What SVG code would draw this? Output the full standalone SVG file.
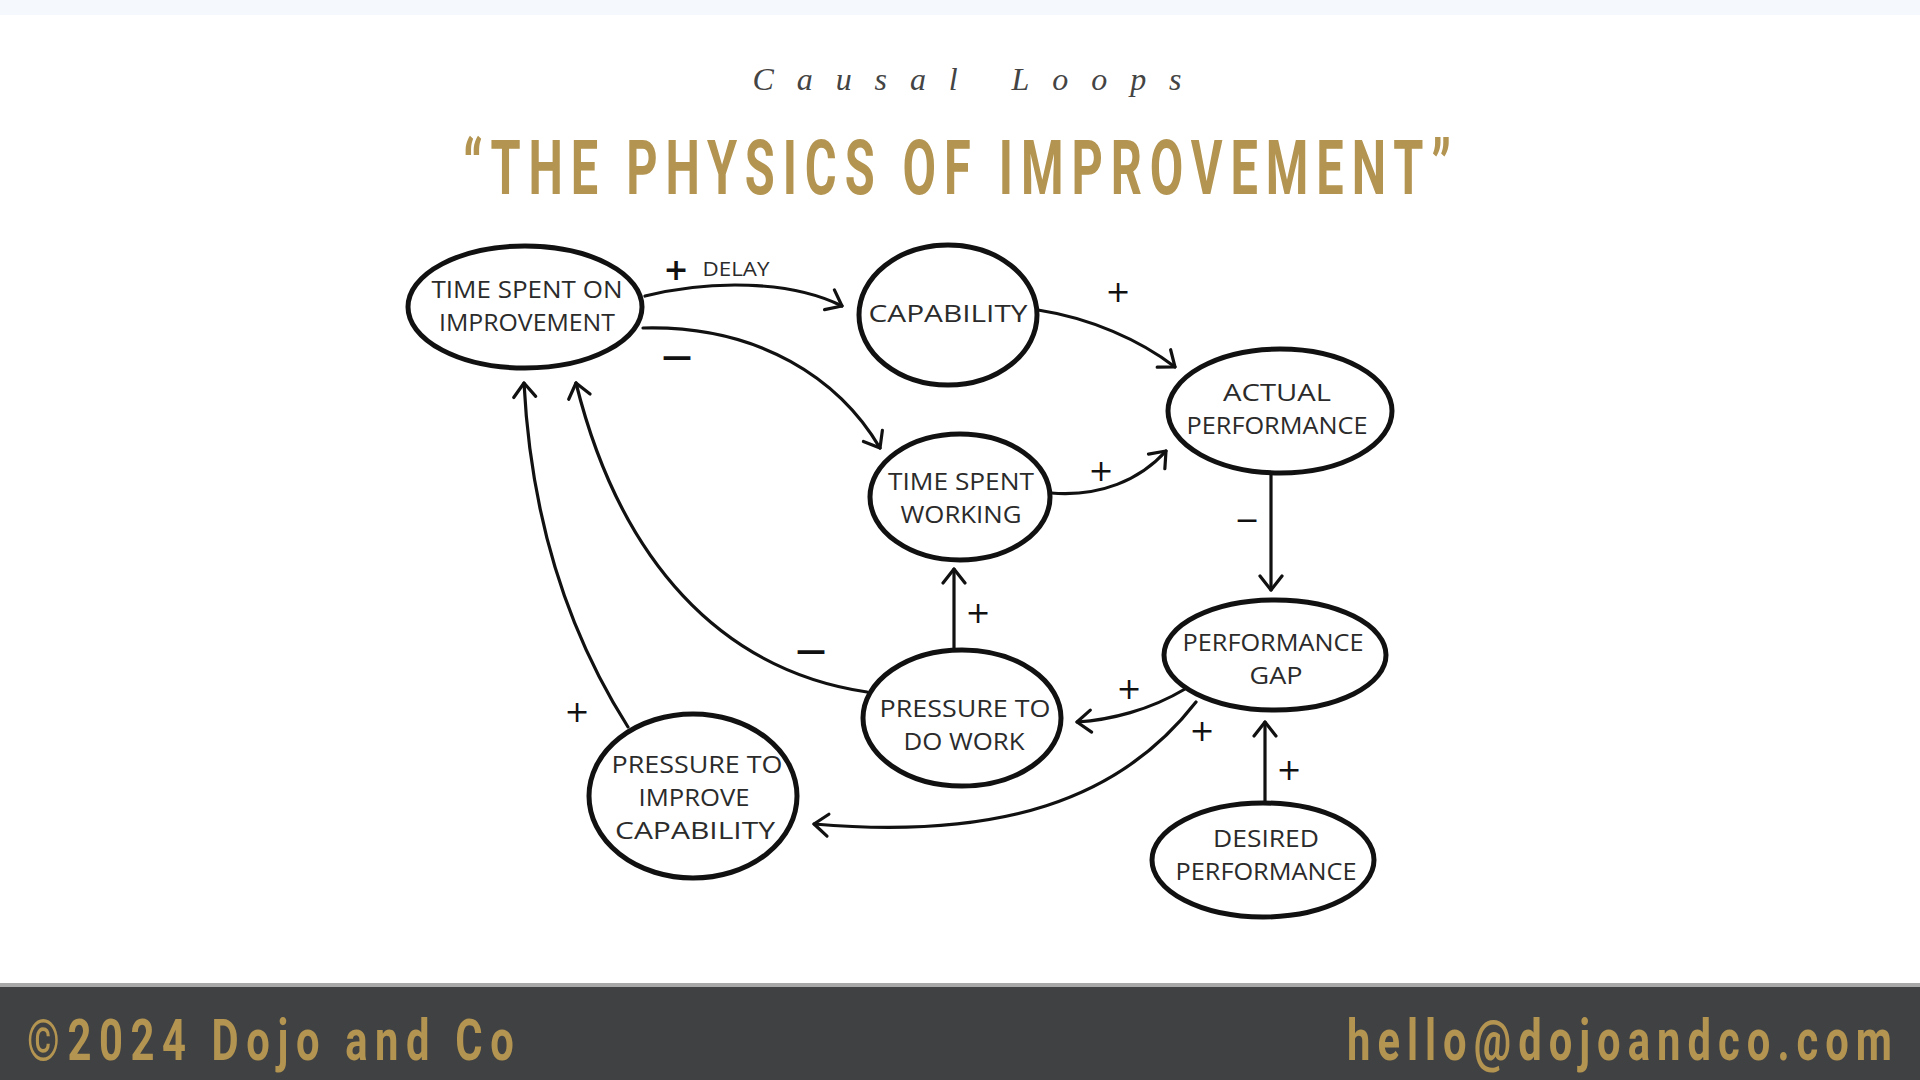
<svg xmlns="http://www.w3.org/2000/svg" width="1920" height="1080" viewBox="0 0 1920 1080">
<style>
.node{fill:#fff;stroke:#111;stroke-width:5}
.lbl{font-family:"Open Sans","DejaVu Sans",sans-serif;font-size:24px;fill:#2b2b2b;text-anchor:middle}
.edge{fill:none;stroke:#111;stroke-width:3.2;stroke-linecap:round;marker-end:url(#arr)}
.sign{font-family:"DejaVu Sans",sans-serif;font-size:30px;fill:#111;text-anchor:middle}
.gold{fill:#b39450}
.cond{font-family:Roboto,"Liberation Sans",sans-serif;font-weight:bold}
</style>
<defs>
<marker id="arr" viewBox="-18 -14 20 28" refX="0" refY="0" markerWidth="20" markerHeight="28" markerUnits="userSpaceOnUse" orient="auto">
<path d="M-14,-11 L0,0 L-14,11" fill="none" stroke="#111" stroke-width="3.2" stroke-linecap="round" stroke-linejoin="round"/>
</marker>
</defs>
<rect x="0" y="0" width="1920" height="1080" fill="#fff"/>
<rect x="0" y="0" width="1920" height="15" fill="#f5f9fd"/>

<text x="967" y="90" font-family="Liberation Serif,serif" font-style="italic" font-size="32" fill="#444" text-anchor="middle" textLength="429" lengthAdjust="spacing">Causal Loops</text>
<text transform="translate(957,194) scale(0.64,1)" x="0" y="0" class="cond gold" font-size="76" text-anchor="middle" textLength="1544" lengthAdjust="spacing">“THE PHYSICS OF IMPROVEMENT”</text>

<g id="connectors">
<path class="edge" d="M645,296 C710,280 790,280 842,306"/>
<path class="edge" d="M643,328 C760,325 840,380 880,448"/>
<path class="edge" d="M1038,310 C1090,318 1140,340 1175,367"/>
<path class="edge" d="M1051,493 C1100,497 1140,480 1166,451"/>
<path class="edge" d="M1271,475 L1271,590"/>
<path class="edge" d="M1185,689 C1150,710 1110,720 1077,722"/>
<path class="edge" d="M1196,702 C1120,800 1000,840 814,824"/>
<path class="edge" d="M1265,802 L1265,722"/>
<path class="edge" d="M954,649 L954,569"/>
<path class="edge" d="M867,692 C720,670 620,560 576,383"/>
<path class="edge" d="M628,727 C560,620 530,500 524,383"/>
<text class="sign" x="676" y="280" font-size="36" font-weight="bold">+</text>
<text x="736" y="276" font-family="'Open Sans',sans-serif" font-size="20" fill="#2b2b2b" text-anchor="middle" textLength="67" lengthAdjust="spacingAndGlyphs">DELAY</text>
<text class="sign" x="677" y="366" font-weight="bold">—</text>
<text class="sign" x="1118" y="302">+</text>
<text class="sign" x="1101" y="481">+</text>
<text class="sign" x="1247" y="530" font-size="34">−</text>
<text class="sign" x="1129" y="699">+</text>
<text class="sign" x="1202" y="741">+</text>
<text class="sign" x="1289" y="780">+</text>
<text class="sign" x="978" y="623">+</text>
<text class="sign" x="811" y="660" font-weight="bold">—</text>
<text class="sign" x="577" y="722">+</text>
</g>

<g id="n-tsoi">
<ellipse class="node" cx="525" cy="307" rx="117" ry="61"/>
<text class="lbl" x="527" y="298" textLength="191" lengthAdjust="spacingAndGlyphs">TIME SPENT ON</text>
<text class="lbl" x="527" y="331" textLength="176" lengthAdjust="spacingAndGlyphs">IMPROVEMENT</text>
</g>
<g id="n-capability">
<ellipse class="node" cx="948" cy="315" rx="89" ry="70"/>
<text class="lbl" x="948" y="322" textLength="159" lengthAdjust="spacingAndGlyphs">CAPABILITY</text>
</g>
<g id="n-actual">
<ellipse class="node" cx="1280" cy="411" rx="112" ry="62"/>
<text class="lbl" x="1277" y="401" textLength="108" lengthAdjust="spacingAndGlyphs">ACTUAL</text>
<text class="lbl" x="1277" y="434" textLength="181" lengthAdjust="spacingAndGlyphs">PERFORMANCE</text>
</g>
<g id="n-tsw">
<ellipse class="node" cx="960" cy="497" rx="90" ry="63"/>
<text class="lbl" x="961" y="490" textLength="146" lengthAdjust="spacingAndGlyphs">TIME SPENT</text>
<text class="lbl" x="961" y="523" textLength="121" lengthAdjust="spacingAndGlyphs">WORKING</text>
</g>
<g id="n-gap">
<ellipse class="node" cx="1275" cy="655" rx="111" ry="55"/>
<text class="lbl" x="1273" y="651" textLength="181" lengthAdjust="spacingAndGlyphs">PERFORMANCE</text>
<text class="lbl" x="1276" y="684" textLength="53" lengthAdjust="spacingAndGlyphs">GAP</text>
</g>
<g id="n-pdw">
<ellipse class="node" cx="962" cy="718" rx="99" ry="68"/>
<text class="lbl" x="965" y="717" textLength="171" lengthAdjust="spacingAndGlyphs">PRESSURE TO</text>
<text class="lbl" x="964" y="750" textLength="121" lengthAdjust="spacingAndGlyphs">DO WORK</text>
</g>
<g id="n-pic">
<ellipse class="node" cx="693" cy="796" rx="104" ry="82"/>
<text class="lbl" x="697" y="773" textLength="171" lengthAdjust="spacingAndGlyphs">PRESSURE TO</text>
<text class="lbl" x="694" y="806" textLength="111" lengthAdjust="spacingAndGlyphs">IMPROVE</text>
<text class="lbl" x="695" y="839" textLength="160" lengthAdjust="spacingAndGlyphs">CAPABILITY</text>
</g>
<g id="n-desired">
<ellipse class="node" cx="1263" cy="860" rx="111" ry="57"/>
<text class="lbl" x="1266" y="847" textLength="106" lengthAdjust="spacingAndGlyphs">DESIRED</text>
<text class="lbl" x="1266" y="880" textLength="181" lengthAdjust="spacingAndGlyphs">PERFORMANCE</text>
</g>

<rect x="0" y="983" width="1920" height="4" fill="#a8a8a8"/>
<rect x="0" y="987" width="1920" height="93" fill="#404143"/>
<text transform="translate(27,1060) scale(0.72,1)" x="0" y="0" class="cond gold" font-size="58" textLength="676" lengthAdjust="spacing">©2024 Dojo and Co</text>
<text transform="translate(1347,1060) scale(0.72,1)" x="0" y="0" class="cond gold" font-size="58" textLength="757" lengthAdjust="spacing">hello@dojoandco.com</text>
</svg>
